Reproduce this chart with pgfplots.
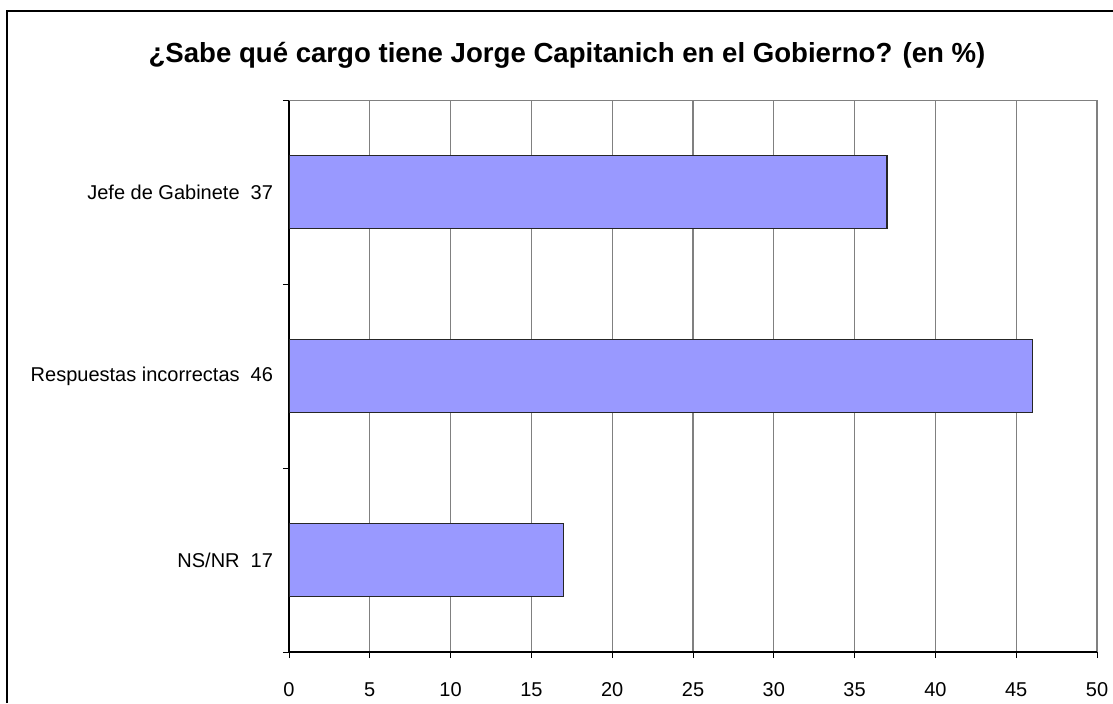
\documentclass[border=0pt]{standalone}
\usepackage{fontspec}
\setmainfont{Liberation Sans}
\usepackage{pgfplots}
\pgfplotsset{compat=1.18}
\definecolor{barfill}{HTML}{9999FF}
\definecolor{gridgray}{HTML}{808080}
\begin{document}
\begin{tikzpicture}
\useasboundingbox (0,0) rectangle (556.5pt,351.5pt);
\draw[line width=1pt] (3.5pt,0) -- (3.5pt,346pt) -- (556.5pt,346pt);
\node[font=\fontsize{13.8}{15}\selectfont\bfseries] at (283.5pt,324pt) {¿Sabe qué cargo tiene Jorge Capitanich en el Gobierno? (en \%)};
\begin{axis}[
  at={(144.5pt,25.5pt)}, anchor=south west,
  scale only axis, width=404pt, height=276pt,
  xbar, bar width=0.4,
  xmin=0, xmax=50, ymin=-0.5, ymax=2.5,
  axis lines=left, axis line style={-, line width=0.6pt, black},
  xtick={0,5,...,50},
  ytick={-0.5,0.5,1.5,2.5}, yticklabels={},
  extra y ticks={0,1,2},
  extra y tick labels={NS/NR\hspace{0.55em}17,Respuestas incorrectas\hspace{0.55em}46,Jefe de Gabinete\hspace{0.55em}37},
  extra y tick style={major tick length=0pt, ymajorgrids=false, yticklabel style={xshift=-4.5pt}},
  tick align=outside, major tick length=3pt,
  tick style={black, line width=0.5pt},
  xmajorgrids, grid style={gridgray, line width=0.6pt},
  /pgf/number format/assume math mode=true,
  ticklabel style={font=\fontsize{10}{11}\selectfont},
  xticklabel style={anchor=base, yshift=-19pt},
]
\addplot[fill=barfill, draw=black!85, line width=0.6pt] coordinates {(17,0) (46,1) (37,2)};
\draw[gridgray, line width=0.6pt] (axis cs:0,2.5) -- (axis cs:50,2.5);
\end{axis}
\end{tikzpicture}
\end{document}
